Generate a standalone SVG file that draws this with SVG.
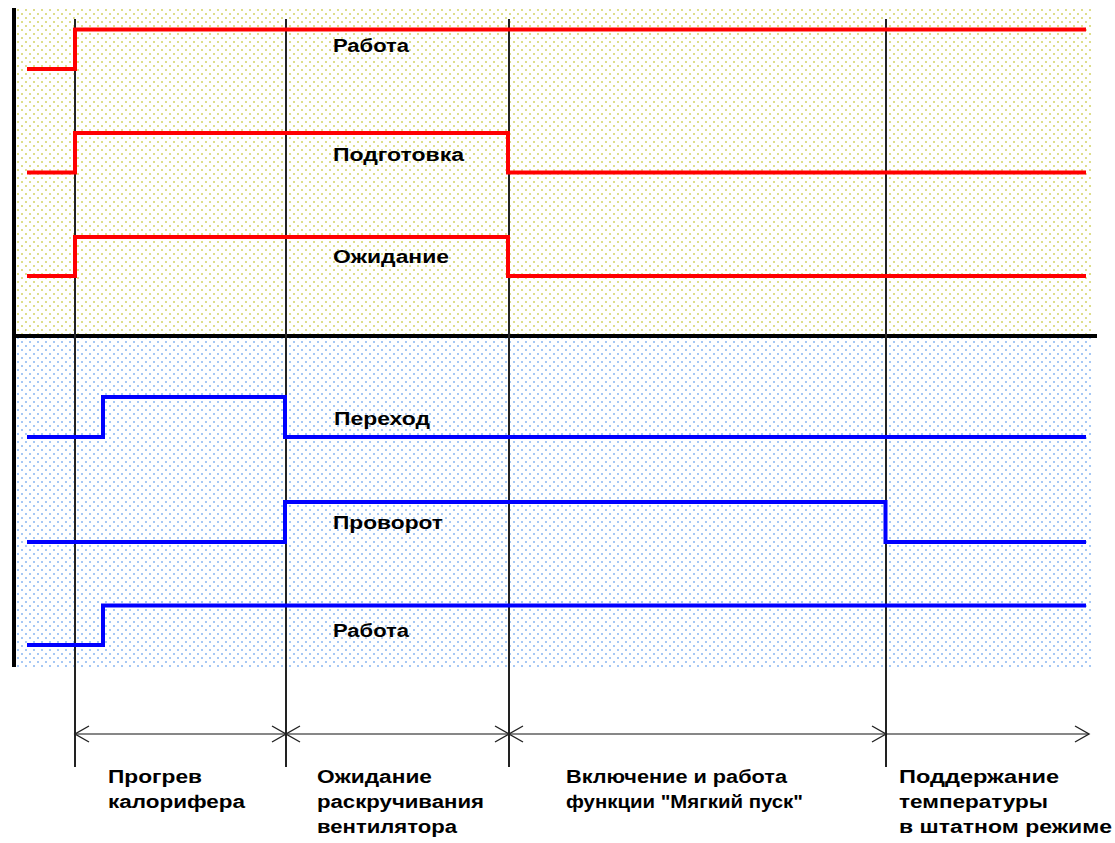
<svg xmlns="http://www.w3.org/2000/svg" width="1115" height="843" viewBox="0 0 1115 843">
<defs>
<style>
.lbl{font-family:"Liberation Sans",Arial,sans-serif;font-weight:bold;font-size:18px;fill:#000}
.red{fill:none;stroke:#ff0000;stroke-width:4;stroke-linejoin:miter}
.blue{fill:none;stroke:#0000ff;stroke-width:4;stroke-linejoin:miter}
.div{stroke:#222;stroke-width:2}
.dim{stroke:#111;stroke-width:1.2;fill:none}
.frame{stroke:#000;stroke-width:4}
</style>
<pattern id="py" width="8" height="8" patternUnits="userSpaceOnUse">
<rect width="8" height="8" fill="#ffffff"/>
<rect x="1" y="1" width="2" height="2" fill="#dede8c"/>
<rect x="5" y="5" width="2" height="2" fill="#dede8c"/>
</pattern>
<pattern id="pb" width="8" height="8" patternUnits="userSpaceOnUse">
<rect width="8" height="8" fill="#ffffff"/>
<rect x="1" y="1" width="2" height="2" fill="#a6c8f4"/>
<rect x="5" y="5" width="2" height="2" fill="#a6c8f4"/>
</pattern>
<marker id="chev" markerUnits="userSpaceOnUse" markerWidth="20" markerHeight="20" viewBox="-16 -10 18 20" refX="0" refY="0" orient="auto-start-reverse">
<path d="M-14,-8 L0,0 L-14,8" fill="none" stroke="#222" stroke-width="1.4"/>
</marker>
</defs>
<rect width="1115" height="843" fill="#ffffff"/>
<g id="background">
<rect x="15" y="9" width="1078" height="326" fill="url(#py)"/>
<rect x="15" y="337" width="1078" height="330" fill="url(#pb)"/>
<line class="frame" x1="14" y1="8" x2="14" y2="667"/>
<line class="frame" x1="12" y1="336" x2="1097" y2="336"/>
</g>
<g id="connectors">
<line class="div" x1="75" y1="19" x2="75" y2="767"/>
<line class="div" x1="286" y1="19" x2="286" y2="767"/>
<line class="div" x1="509" y1="19" x2="509" y2="767"/>
<line class="div" x1="886" y1="19" x2="886" y2="767"/>
<line class="dim" x1="75" y1="734" x2="286" y2="734" marker-start="url(#chev)" marker-end="url(#chev)"/>
<line class="dim" x1="286" y1="734" x2="509" y2="734" marker-start="url(#chev)" marker-end="url(#chev)"/>
<line class="dim" x1="509" y1="734" x2="886" y2="734" marker-start="url(#chev)" marker-end="url(#chev)"/>
<line class="dim" x1="886" y1="734" x2="1089" y2="734" marker-end="url(#chev)"/>
</g>
<g id="sig-rabota-red">
<path class="red" d="M27,69 H75 V29.5 H1086"/>
<text class="lbl" x="333" y="52" textLength="76" lengthAdjust="spacingAndGlyphs">Работа</text>
</g>
<g id="sig-podgotovka">
<path class="red" d="M27,172.5 H75 V133 H508 V172.5 H1086"/>
<text class="lbl" x="333" y="161" textLength="131" lengthAdjust="spacingAndGlyphs">Подготовка</text>
</g>
<g id="sig-ozhidanie">
<path class="red" d="M27,276 H75 V237 H508 V276 H1086"/>
<text class="lbl" x="333" y="263" textLength="116" lengthAdjust="spacingAndGlyphs">Ожидание</text>
</g>
<g id="sig-perehod">
<path class="blue" d="M27,437 H103 V397 H285 V437 H1086"/>
<text class="lbl" x="334" y="425" textLength="96" lengthAdjust="spacingAndGlyphs">Переход</text>
</g>
<g id="sig-provorot">
<path class="blue" d="M27,542 H285 V502 H885.5 V542 H1086"/>
<text class="lbl" x="333" y="529" textLength="110" lengthAdjust="spacingAndGlyphs">Проворот</text>
</g>
<g id="sig-rabota-blue">
<path class="blue" d="M27,645 H103 V605.5 H1086"/>
<text class="lbl" x="333" y="637" textLength="76" lengthAdjust="spacingAndGlyphs">Работа</text>
</g>
<g id="phase-1">
<text class="lbl" x="108" y="783" textLength="94" lengthAdjust="spacingAndGlyphs">Прогрев</text>
<text class="lbl" x="108" y="808" textLength="137" lengthAdjust="spacingAndGlyphs">калорифера</text>
</g>
<g id="phase-2">
<text class="lbl" x="317" y="783" textLength="115" lengthAdjust="spacingAndGlyphs">Ожидание</text>
<text class="lbl" x="317" y="808" textLength="167" lengthAdjust="spacingAndGlyphs">раскручивания</text>
<text class="lbl" x="317" y="833" textLength="140" lengthAdjust="spacingAndGlyphs">вентилятора</text>
</g>
<g id="phase-3">
<text class="lbl" x="566" y="783" textLength="221" lengthAdjust="spacingAndGlyphs">Включение и работа</text>
<text class="lbl" x="566" y="808" textLength="237" lengthAdjust="spacingAndGlyphs">функции "Мягкий пуск"</text>
</g>
<g id="phase-4">
<text class="lbl" x="899" y="783" textLength="160" lengthAdjust="spacingAndGlyphs">Поддержание</text>
<text class="lbl" x="899" y="808" textLength="149" lengthAdjust="spacingAndGlyphs">температуры</text>
<text class="lbl" x="899" y="833" textLength="213" lengthAdjust="spacingAndGlyphs">в штатном режиме</text>
</g>
</svg>
